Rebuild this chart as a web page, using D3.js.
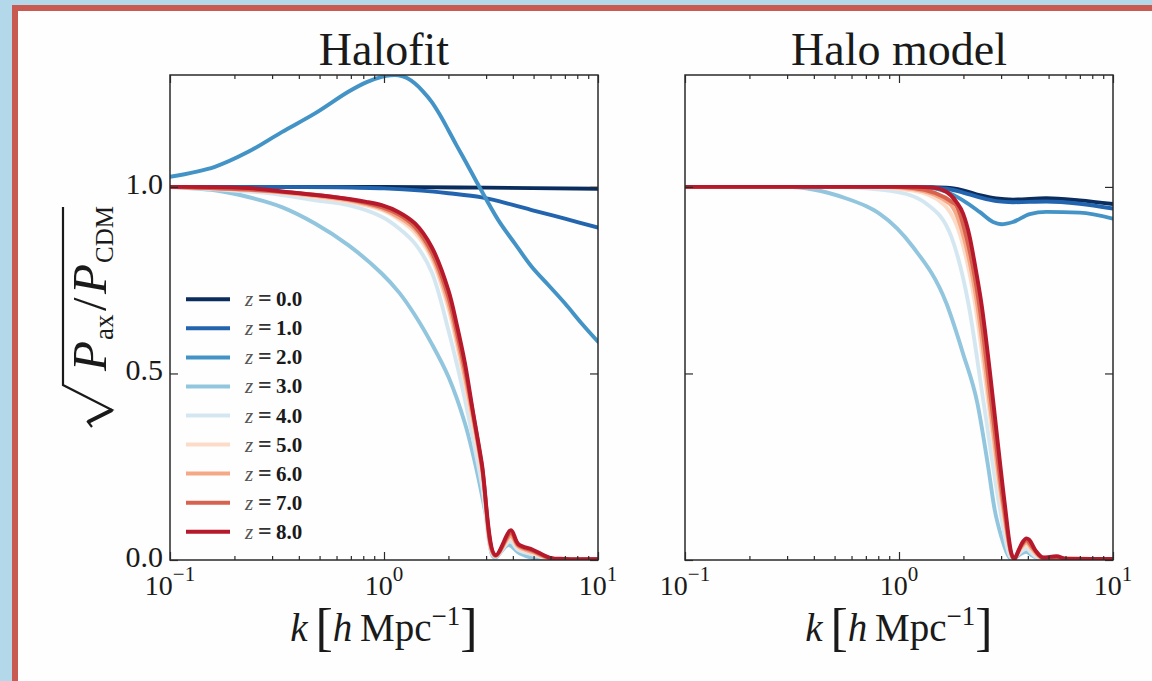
<!DOCTYPE html>
<html>
<head>
<meta charset="utf-8">
<script src="https://cdn.jsdelivr.net/npm/d3@7"></script>
<style>
  html, body { margin: 0; padding: 0; background: #b3d8e9; }
  svg { display: block; }
</style>
</head>
<body>
<svg id="fig" width="1152" height="681"></svg>
<script>
// ---------------- data ----------------
const redshifts = [0, 1, 2, 3, 4, 5, 6, 7, 8];
const zColors = ["#0b2d5e", "#2264ae", "#4393c6", "#92c5de", "#d4e7f1",
                 "#fcdcc9", "#f4a885", "#d7634f", "#b5192b"];
const panelTitles = ["Halofit", "Halo model"];
const kDomain = [0.1, 10];
const yDomain = [0, 1.3];
const yTicks = [0, 0.5, 1.0];
const yTickLabels = ["0.0", "0.5", "1.0"];
const xMajor = [0.1, 1, 10];
const xMajorExp = ["\u22121", "0", "1"];
const xMinor = [0.2, 0.3, 0.4, 0.5, 0.6, 0.7, 0.8, 0.9, 2, 3, 4, 5, 6, 7, 8, 9];

// Halofit: sqrt(P_ax/P_CDM) vs k [h/Mpc], one [k, ratio] list per redshift
const halofit_z0 = [[0.1,1.0],[0.5,1.0],[1,1.0],[3,0.998],[10,0.995]];
const halofit_z1 = [[0.1,1.0],[0.3,1.0],[0.6,0.999],[1.0,0.996],[1.5,0.99],[2.0,0.983],[2.86,0.972],[4.0,0.952],[4.9,0.938],[7.0,0.915],[10,0.891]];
const halofit_z2 = [[0.1,1.027],[0.162,1.054],[0.232,1.094],[0.333,1.147],[0.476,1.197],[0.681,1.255],[0.83,1.281],[0.976,1.295],[1.07,1.299],[1.167,1.299],[1.28,1.292],[1.396,1.277],[1.52,1.256],[1.67,1.228],[1.83,1.192],[2.0,1.152],[2.18,1.112],[2.39,1.071],[2.76,1.005],[3.42,0.911],[4.09,0.848],[4.9,0.786],[5.86,0.737],[7.0,0.688],[8.39,0.634],[10,0.585]];
const halofit_z3 = [[0.1,1.0],[0.162,0.991],[0.232,0.973],[0.333,0.946],[0.476,0.902],[0.681,0.844],[0.976,0.768],[1.18,0.716],[1.396,0.656],[1.67,0.580],[2.0,0.491],[2.39,0.366],[2.71,0.241],[3.0,0.118],[3.28,0.006],[3.81,0.040],[4.3,0.018],[5.17,0.003],[10,0.002]];
const halofit_z4 = [[0.1,1.0],[0.278,0.984],[0.476,0.964],[0.681,0.951],[0.976,0.920],[1.18,0.888],[1.396,0.848],[1.67,0.772],[2.0,0.616],[2.19,0.525],[2.39,0.429],[2.86,0.205],[3.29,0.009],[3.88,0.050],[4.24,0.027],[4.98,0.014],[5.97,0.003],[10,0.002]];
const halofit_z5 = [[0.1,1.0],[0.278,0.988],[0.476,0.973],[0.681,0.960],[0.976,0.938],[1.18,0.912],[1.396,0.877],[1.67,0.808],[2.0,0.674],[2.19,0.578],[2.39,0.473],[2.86,0.237],[3.3,0.010],[3.9,0.058],[4.24,0.032],[4.98,0.018],[5.97,0.004],[10,0.002]];
const halofit_z6 = [[0.1,1.0],[0.278,0.989],[0.476,0.976],[0.681,0.964],[0.976,0.942],[1.18,0.918],[1.396,0.886],[1.67,0.817],[2.0,0.688],[2.19,0.593],[2.39,0.491],[2.86,0.250],[3.31,0.011],[3.91,0.065],[4.24,0.036],[4.98,0.021],[5.97,0.004],[10,0.002]];
const halofit_z7 = [[0.1,1.0],[0.278,0.990],[0.476,0.979],[0.681,0.967],[0.976,0.946],[1.18,0.925],[1.396,0.893],[1.67,0.826],[2.0,0.705],[2.19,0.610],[2.39,0.509],[2.86,0.256],[3.31,0.012],[3.92,0.072],[4.24,0.040],[4.98,0.024],[5.97,0.005],[10,0.002]];
const halofit_z8 = [[0.1,1.0],[0.232,0.997],[0.37,0.985],[0.578,0.973],[0.827,0.960],[0.976,0.951],[1.167,0.933],[1.396,0.902],[1.67,0.839],[2.0,0.723],[2.19,0.63],[2.39,0.527],[2.6,0.40],[2.86,0.262],[3.32,0.013],[3.92,0.080],[4.24,0.043],[4.98,0.027],[5.97,0.006],[7,0.003],[10,0.002]];

// Halo model
const halomodel_z0 = [[0.1,1.0],[1.163,1.0],[1.665,0.998],[1.99,0.991],[2.38,0.978],[2.85,0.969],[3.41,0.966],[4.88,0.970],[6.99,0.964],[10,0.954]];
const halomodel_z1 = [[0.1,1.0],[1.163,1.0],[1.665,0.995],[1.99,0.985],[2.38,0.972],[2.85,0.962],[3.41,0.959],[4.88,0.961],[6.99,0.955],[10,0.942]];
const halomodel_z2 = [[0.1,1.0],[1.2,1.0],[1.39,0.998],[1.665,0.987],[1.99,0.964],[2.38,0.933],[2.75,0.906],[3.01,0.900],[3.41,0.906],[4.08,0.927],[4.88,0.933],[6.99,0.931],[10,0.915]];
const halomodel_z3 = [[0.1,1.0],[0.3,1.0],[0.397,0.993],[0.568,0.969],[0.704,0.948],[0.813,0.928],[1.163,0.839],[1.665,0.688],[1.99,0.554],[2.325,0.42],[2.61,0.25],[2.801,0.134],[3.01,0.062],[3.29,0.006],[3.4,0.003],[3.7,0.016],[3.94,0.022],[4.2,0.012],[4.6,0.002],[10,0.001]];
const halomodel_z4 = [[0.1,1.0],[0.5,1.0],[0.813,0.993],[1.163,0.975],[1.343,0.955],[1.757,0.866],[2.109,0.688],[2.488,0.42],[2.933,0.152],[3.3,0.01],[3.42,0.004],[3.7,0.022],[3.94,0.030],[4.2,0.016],[4.6,0.003],[10,0.002]];
const halomodel_z5 = [[0.1,1.0],[0.7,1.0],[1.163,0.99],[1.605,0.955],[1.942,0.866],[2.266,0.688],[2.617,0.42],[3.01,0.152],[3.38,0.008],[3.44,0.004],[3.7,0.028],[3.94,0.040],[4.2,0.024],[4.65,0.004],[10,0.002]];
const halomodel_z6 = [[0.1,1.0],[0.8,1.0],[1.163,0.994],[1.725,0.955],[2.006,0.866],[2.315,0.688],[2.654,0.42],[3.043,0.152],[3.4,0.006],[3.45,0.004],[3.7,0.032],[3.94,0.047],[4.2,0.029],[4.68,0.005],[10,0.002]];
const halomodel_z7 = [[0.1,1.0],[0.9,1.0],[1.163,0.997],[1.82,0.955],[2.065,0.866],[2.365,0.688],[2.703,0.42],[3.076,0.152],[3.43,0.004],[3.7,0.036],[3.94,0.053],[4.2,0.034],[4.7,0.006],[10,0.002]];
const halomodel_z8 = [[0.1,1.0],[1.2,1.0],[1.442,0.998],[1.665,0.987],[1.854,0.960],[1.991,0.929],[2.14,0.866],[2.258,0.795],[2.427,0.688],[2.654,0.509],[2.852,0.348],[3.118,0.152],[3.351,0.018],[3.47,0.003],[3.6,0.022],[3.8,0.050],[3.94,0.058],[4.05,0.055],[4.35,0.025],[4.71,0.007],[5.44,0.010],[6.06,0.003],[10,0.003]];

const halofitSeries = [halofit_z0, halofit_z1, halofit_z2, halofit_z3, halofit_z4,
                       halofit_z5, halofit_z6, halofit_z7, halofit_z8];
const halomodelSeries = [halomodel_z0, halomodel_z1, halomodel_z2, halomodel_z3, halomodel_z4,
                         halomodel_z5, halomodel_z6, halomodel_z7, halomodel_z8];

// ---------------- drawing ----------------
const W = 1152, H = 681;
const SERIF = "'Liberation Serif', 'DejaVu Serif', serif";
const INK = "#1a1a1a";
const svg = d3.select("#fig");

// slide backdrop: blue surround, red frame, white card
svg.append("rect").attr("width", W).attr("height", H).attr("fill", "#b3d8e9");
svg.append("rect").attr("x", 12).attr("y", 5).attr("width", W).attr("height", H).attr("fill", "#c85a52");
svg.append("rect").attr("x", 18).attr("y", 11).attr("width", W).attr("height", H).attr("fill", "#fefefe");

const plotTop = 75, plotBottom = 560;
const y = d3.scaleLinear().domain(yDomain).range([plotBottom, plotTop]);

const panels = [
  { title: panelTitles[0], x0: 170, x1: 598, series: halofitSeries, yLabels: true, legend: true,
    curve: d3.curveCatmullRom.alpha(0.5) },
  { title: panelTitles[1], x0: 685, x1: 1113, series: halomodelSeries, yLabels: false, legend: false,
    curve: d3.curveMonotoneX }
];

panels.forEach((p, pi) => {
  const x = d3.scaleLog().domain(kDomain).range([p.x0, p.x1]);
  const g = svg.append("g");

  const clipId = "clip" + pi;
  svg.append("clipPath").attr("id", clipId)
    .append("rect").attr("x", p.x0).attr("y", plotTop)
    .attr("width", p.x1 - p.x0).attr("height", plotBottom - plotTop);

  const line = d3.line()
    .x(d => x(d[0]))
    .y(d => y(d[1]))
    .curve(p.curve);

  g.append("g").attr("clip-path", `url(#${clipId})`)
    .selectAll("path").data(p.series).join("path")
    .attr("d", d => line(d))
    .attr("fill", "none")
    .attr("stroke", (d, i) => zColors[i])
    .attr("stroke-width", 3.9)
    .attr("stroke-linejoin", "round")
    .attr("stroke-linecap", "round");

  // frame
  g.append("rect")
    .attr("x", p.x0).attr("y", plotTop)
    .attr("width", p.x1 - p.x0).attr("height", plotBottom - plotTop)
    .attr("fill", "none").attr("stroke", "#2a2a2a").attr("stroke-width", 1.5);

  // inward ticks on all four sides
  const styleAxis = sel => {
    sel.select(".domain").remove();
    sel.selectAll(".tick line").attr("stroke", "#2a2a2a").attr("stroke-width", 1.2);
    sel.selectAll(".tick text").remove();
  };
  g.append("g").attr("transform", `translate(0,${plotBottom})`)
    .call(d3.axisBottom(x).tickValues(xMajor).tickSize(-8).tickFormat("")).call(styleAxis);
  g.append("g").attr("transform", `translate(0,${plotBottom})`)
    .call(d3.axisBottom(x).tickValues(xMinor).tickSize(-4).tickFormat("")).call(styleAxis);
  g.append("g").attr("transform", `translate(0,${plotTop})`)
    .call(d3.axisTop(x).tickValues(xMajor).tickSize(-8).tickFormat("")).call(styleAxis);
  g.append("g").attr("transform", `translate(0,${plotTop})`)
    .call(d3.axisTop(x).tickValues(xMinor).tickSize(-4).tickFormat("")).call(styleAxis);
  g.append("g").attr("transform", `translate(${p.x0},0)`)
    .call(d3.axisLeft(y).tickValues(yTicks).tickSize(-8).tickFormat("")).call(styleAxis);
  g.append("g").attr("transform", `translate(${p.x1},0)`)
    .call(d3.axisRight(y).tickValues(yTicks).tickSize(-8).tickFormat("")).call(styleAxis);

  // x tick labels 10^n
  xMajor.forEach((v, i) => {
    const t = g.append("text")
      .attr("x", x(v)).attr("y", 595)
      .attr("text-anchor", "middle")
      .attr("font-family", SERIF).attr("font-size", 28).attr("fill", INK);
    t.append("tspan").text("10");
    t.append("tspan").attr("dy", -14).attr("font-size", 21).text(xMajorExp[i]);
  });

  // y tick labels (left panel only)
  if (p.yLabels) {
    yTicks.forEach((v, i) => {
      g.append("text")
        .attr("x", p.x0 - 7).attr("y", y(v) + 7)
        .attr("text-anchor", "end")
        .attr("font-family", SERIF).attr("font-size", 30).attr("fill", INK)
        .text(yTickLabels[i]);
    });
  }

  // panel title
  g.append("text")
    .attr("x", (p.x0 + p.x1) / 2).attr("y", 65)
    .attr("text-anchor", "middle")
    .attr("font-family", SERIF).attr("font-size", 46).attr("fill", INK)
    .text(p.title);

  // x axis label: k [h Mpc^-1]
  const xl = g.append("text")
    .attr("x", (p.x0 + p.x1) / 2).attr("y", 641)
    .attr("text-anchor", "middle")
    .attr("font-family", SERIF).attr("font-size", 39).attr("fill", INK);
  xl.append("tspan").attr("font-style", "italic").text("k");
  xl.append("tspan").text("\u2009");
  xl.append("tspan").attr("font-size", 52).attr("dy", 4).text("[");
  xl.append("tspan").attr("font-style", "italic").attr("dy", -4).text("h");
  xl.append("tspan").text("\u2009Mpc");
  xl.append("tspan").attr("font-size", 27).attr("dy", -16).text("\u22121");
  xl.append("tspan").attr("font-size", 52).attr("dy", 20).text("]");

  // legend
  if (p.legend) {
    const lg = g.append("g");
    redshifts.forEach((z, i) => {
      const ly = 299.3 + i * 29.05;
      lg.append("line")
        .attr("x1", 186).attr("x2", 230).attr("y1", ly).attr("y2", ly)
        .attr("stroke", zColors[i]).attr("stroke-width", 4);
      const t = lg.append("text")
        .attr("y", ly + 7)
        .attr("font-family", SERIF).attr("font-size", 21).attr("fill", INK);
      t.append("tspan").attr("x", 245).attr("font-style", "italic").attr("fill", "#555").text("z");
      t.append("tspan").attr("x", 258).attr("font-weight", "bold").attr("font-size", 24).attr("fill", "#333").text("=");
      t.append("tspan").attr("x", 276).attr("font-weight", "bold").text(z.toFixed(1));
    });
  }
});

// y axis label: sqrt(P_ax / P_CDM), written bottom-to-top
const yl = svg.append("g").attr("transform", "translate(106,427) rotate(-90)");
yl.append("path")
  .attr("d", "M0,-14 L5,-18 L17,6 L42,-43 L220,-43")
  .attr("fill", "none").attr("stroke", INK).attr("stroke-width", 2.2)
  .attr("stroke-linejoin", "miter");
yl.append("path")
  .attr("d", "M5,-18 L17,6")
  .attr("fill", "none").attr("stroke", INK).attr("stroke-width", 4);
const ylt = yl.append("text").attr("y", 0)
  .attr("font-family", SERIF).attr("font-size", 49).attr("fill", INK);
ylt.append("tspan").attr("x", 56).attr("font-style", "italic").text("P");
ylt.append("tspan").attr("x", 87).attr("dy", 7).attr("font-size", 27).text("ax");
ylt.append("tspan").attr("x", 116).attr("dy", -7).text("/");
ylt.append("tspan").attr("x", 133).attr("font-style", "italic").text("P");
ylt.append("tspan").attr("x", 164).attr("dy", 7).attr("font-size", 25).text("CDM");
</script>
</body>
</html>
